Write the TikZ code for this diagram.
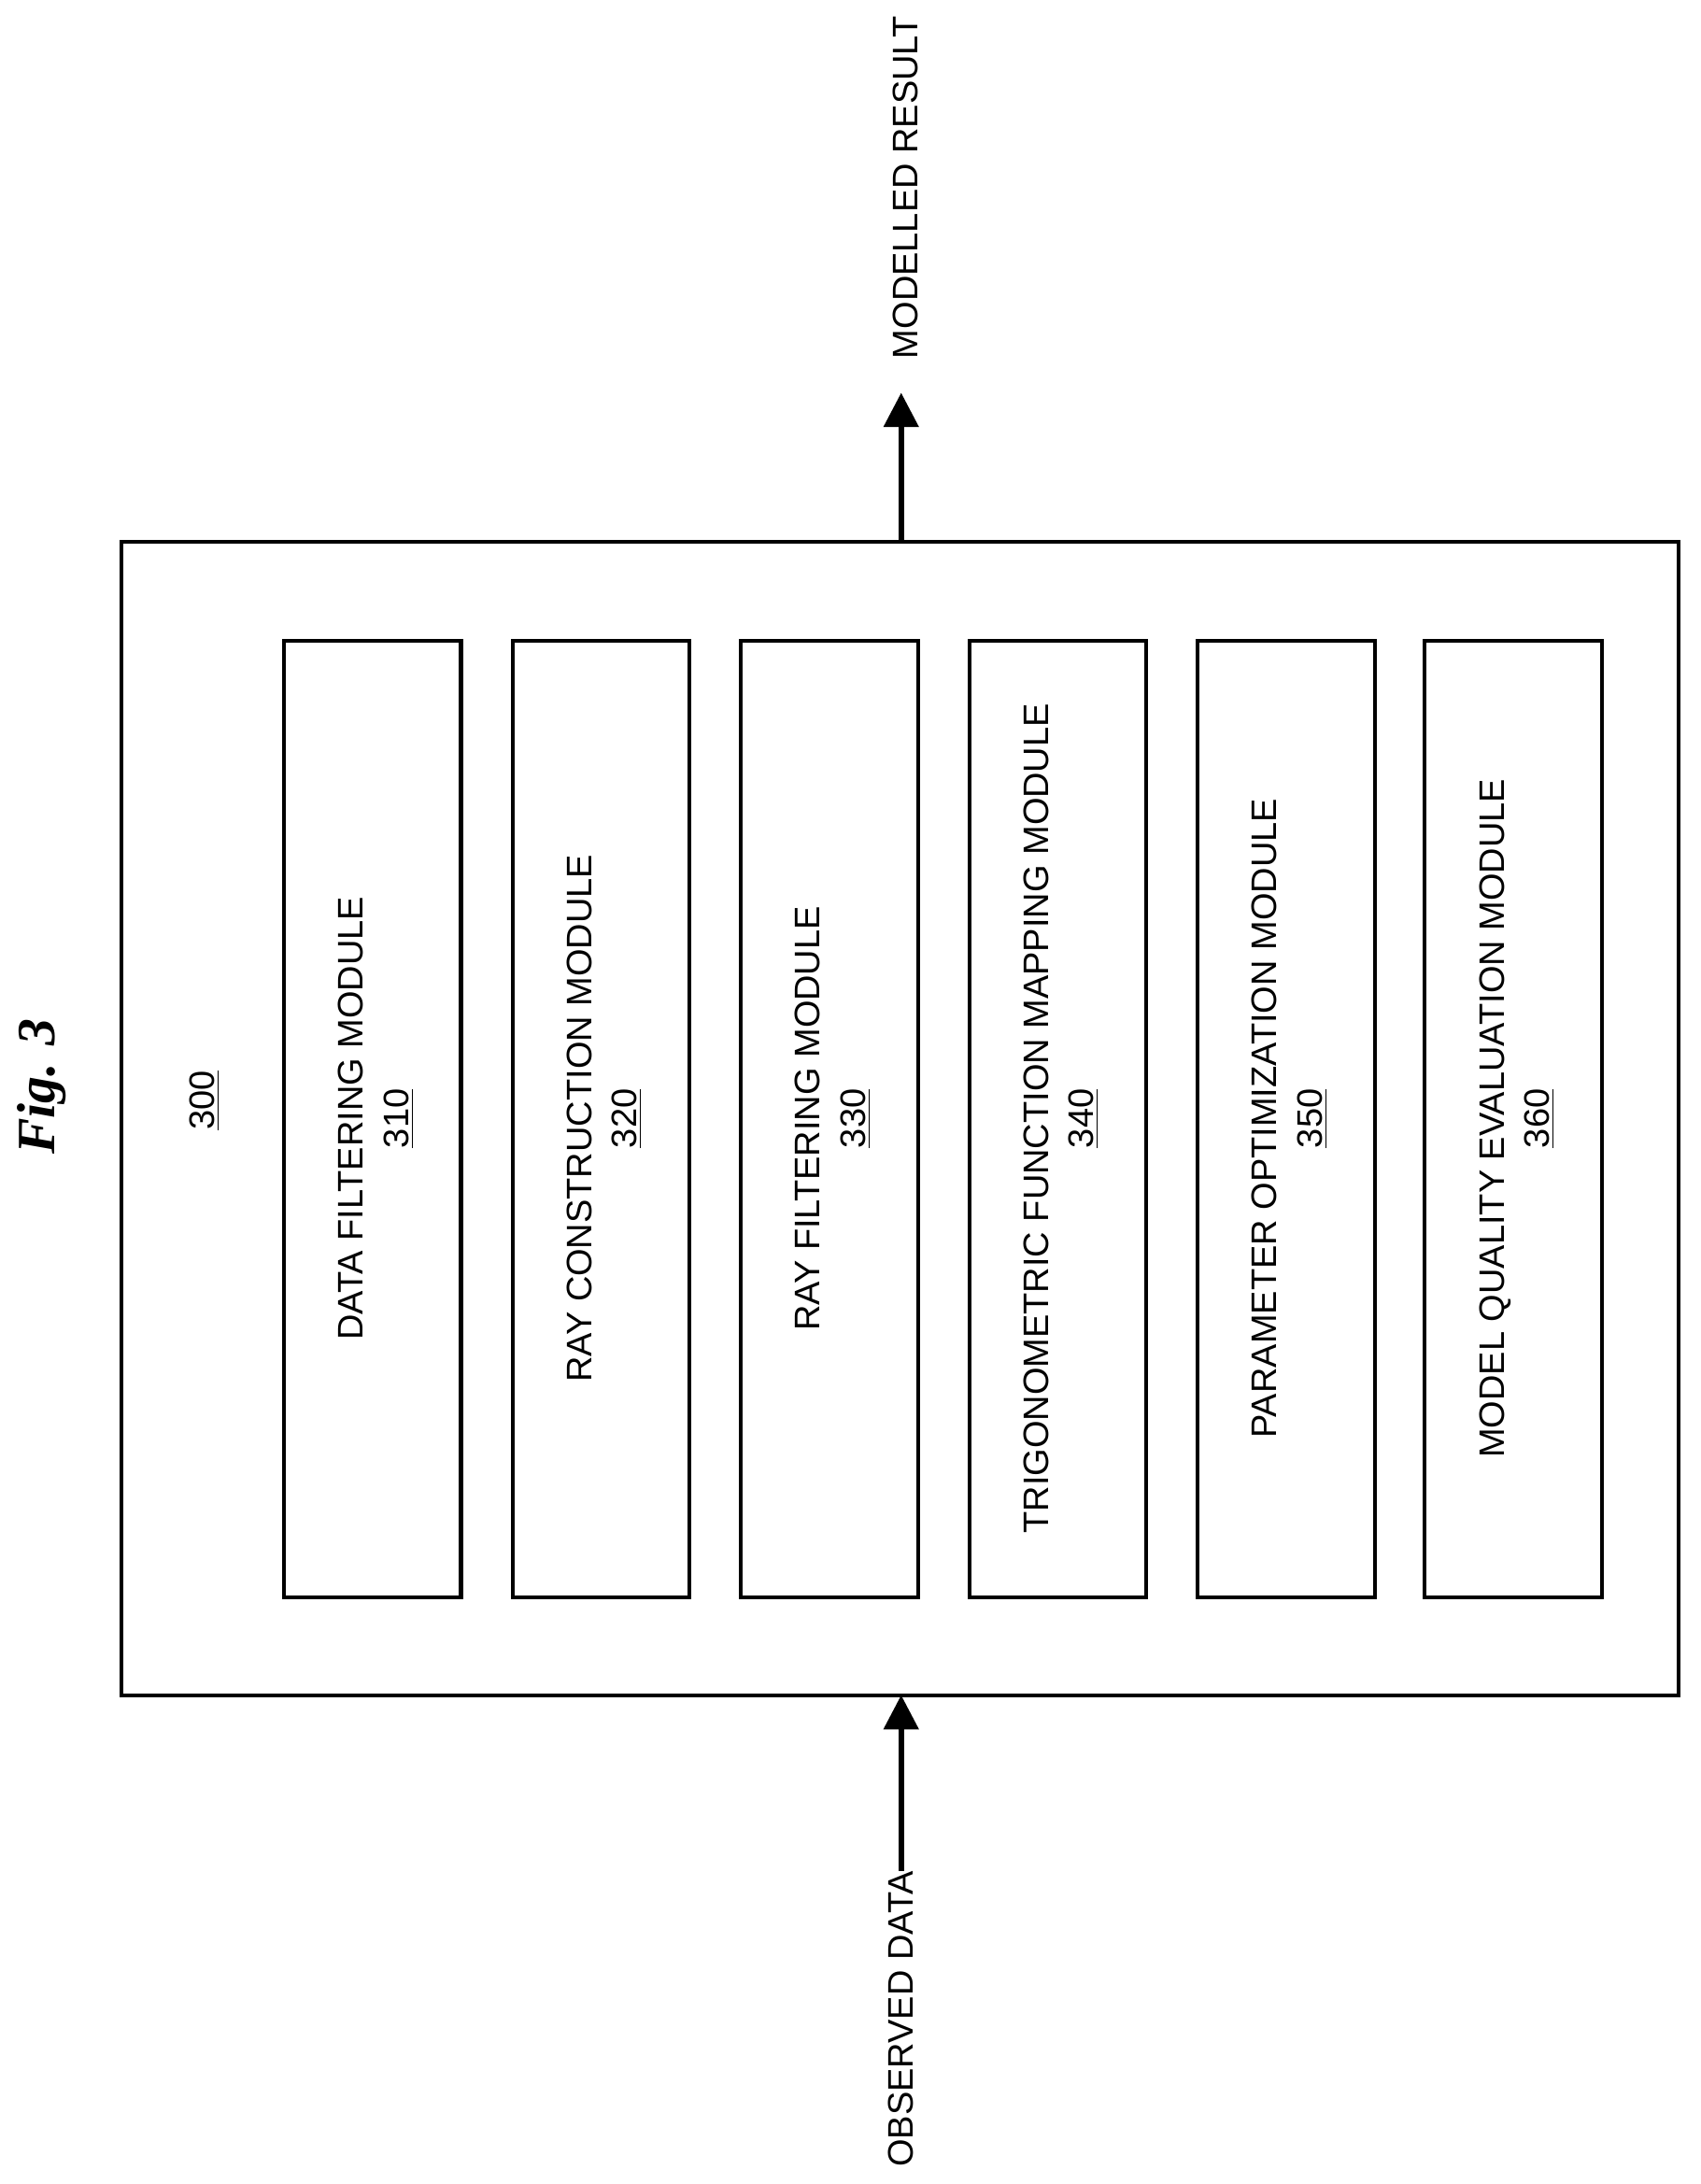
\documentclass[tikz,border=0pt]{standalone}
\usepackage{fontspec}
\setmainfont{Liberation Sans}
\newfontfamily\figfont{Liberation Serif}
\usetikzlibrary{arrows.meta}
\begin{document}
\begin{tikzpicture}[x=0.02cm,y=-0.02cm,
  box/.style={draw,line width=1.6pt},
  lbl/.style={font=\fontsize{14.5}{18.5}\selectfont,rotate=90,align=center},
  arr/.style={line width=2.2pt,-{Triangle[length=14pt,width=14pt]}}]
\useasboundingbox (0,0) rectangle (1221,1568);
\draw[box] (87,389) rectangle (1205,1217);
\coordinate (top) at (647,389);
\coordinate (bot) at (647,1217);
\foreach \x/\t/\n [count=\i] in {204/DATA FILTERING MODULE/310,368/RAY CONSTRUCTION MODULE/320,532/RAY FILTERING MODULE/330,696/TRIGONOMETRIC FUNCTION MAPPING MODULE/340,860/PARAMETER OPTIMIZATION MODULE/350,1023/MODEL QUALITY EVALUATION MODULE/360}{
  \draw[box] (\x,460) rectangle (\x+127,1147);
  \node[lbl] (m\i) at (\x+66,803) {\t\\\underline{\n}};
}
\node[lbl] (n300) at (147,790) {\underline{300}};
\node[rotate=90,font=\figfont\bfseries\itshape\fontsize{22}{26}\selectfont] (fig) at (30,780) {Fig. 3};
\node[lbl,anchor=west,inner sep=0pt] (mr) at (650,258) {MODELLED RESULT};
\node[lbl,anchor=east,inner sep=0pt] (od) at (647,1343) {OBSERVED DATA};
\draw[arr] (top) -- (647,282);
\draw[arr] (od.east) -- (bot);
\end{tikzpicture}
\end{document}
